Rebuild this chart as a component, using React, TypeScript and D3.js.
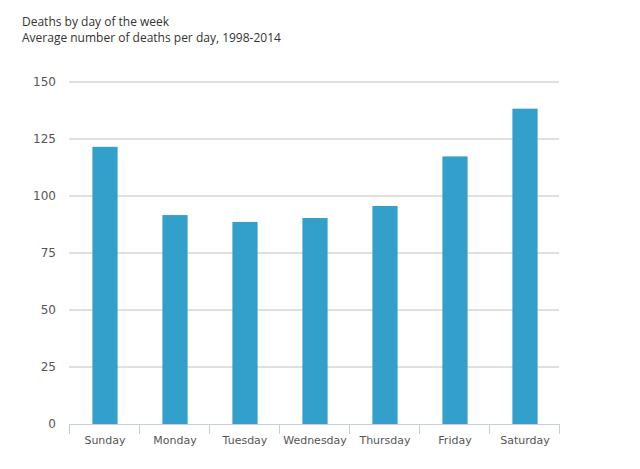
import { useEffect, useRef } from 'react';
import * as d3 from 'd3';

const days = ['Sunday', 'Monday', 'Tuesday', 'Wednesday', 'Thursday', 'Friday', 'Saturday'];
const avgDeaths = [121.4, 91.5, 88.5, 90.2, 95.5, 117.2, 138.1];
const yTicks = [0, 25, 50, 75, 100, 125, 150];

const width = 640;
const height = 469;

const App = () => {
  const ref = useRef<SVGSVGElement | null>(null);

  useEffect(() => {
    if (!ref.current) return;
    const svg = d3.select(ref.current);
    svg.selectAll('*').remove();

    const margin = { top: 81.5, right: 81, bottom: 45, left: 69 };
    const innerWidth = width - margin.left - margin.right;
    const innerHeight = height - margin.top - margin.bottom;

    svg
      .append('text')
      .attr('x', 22)
      .attr('y', 26)
      .attr('font-family', 'Open Sans')
      .attr('font-size', 12)
      .attr('fill', '#333')
      .text('Deaths by day of the week');
    svg
      .append('text')
      .attr('x', 22)
      .attr('y', 42)
      .attr('font-family', 'Open Sans')
      .attr('font-size', 12)
      .attr('fill', '#333')
      .text('Average number of deaths per day, 1998-2014');

    const g = svg.append('g').attr('transform', `translate(${margin.left},${margin.top})`);

    const x = d3.scaleBand().domain(days).range([0, innerWidth]).paddingInner(0.64).paddingOuter(0.32);
    const band = d3.scaleBand().domain(days).range([0, innerWidth]);
    const y = d3.scaleLinear().domain([0, 150]).range([innerHeight, 0]);

    // gridlines
    g.append('g')
      .selectAll('line')
      .data(yTicks.filter((t) => t > 0))
      .enter()
      .append('line')
      .attr('x1', 0)
      .attr('x2', innerWidth)
      .attr('y1', (d) => Math.round(y(d)) + 0.5)
      .attr('y2', (d) => Math.round(y(d)) + 0.5)
      .attr('stroke', '#c0c0c0');

    g.append('g')
      .selectAll('rect')
      .data(avgDeaths)
      .enter()
      .append('rect')
      .attr('x', (_, i) => (x(days[i]) ?? 0) + 1)
      .attr('y', (d) => y(d))
      .attr('width', x.bandwidth())
      .attr('height', (d) => innerHeight - y(d))
      .attr('fill', '#339fcb');

    const yAxis = g.append('g').call(d3.axisLeft(y).tickValues(yTicks).tickSize(0).tickPadding(13));
    yAxis.select('.domain').remove();
    yAxis
      .selectAll('text')
      .attr('font-family', 'DejaVu Sans')
      .attr('font-size', 12)
      .attr('fill', '#555');

    // x axis with ticks on band boundaries
    const xAxis = g.append('g').attr('transform', `translate(0,${innerHeight})`);
    xAxis
      .append('line')
      .attr('x1', 0)
      .attr('x2', innerWidth)
      .attr('y1', 0.5)
      .attr('y2', 0.5)
      .attr('stroke', '#c0d0e0');
    xAxis
      .selectAll('line.tick')
      .data(days.concat(['end']))
      .enter()
      .append('line')
      .attr('class', 'tick')
      .attr('x1', (d) => Math.round(d === 'end' ? innerWidth : band(d) ?? 0) + 0.5)
      .attr('x2', (d) => Math.round(d === 'end' ? innerWidth : band(d) ?? 0) + 0.5)
      .attr('y1', 0)
      .attr('y2', 10)
      .attr('stroke', '#c0d0e0');
    xAxis
      .selectAll('text')
      .data(days)
      .enter()
      .append('text')
      .attr('x', (d) => (band(d) ?? 0) + band.bandwidth() / 2 + 1)
      .attr('y', 20)
      .attr('text-anchor', 'middle')
      .attr('font-family', 'DejaVu Sans')
      .attr('font-size', 11)
      .attr('fill', '#555')
      .text((d) => d);
  }, []);

  return (
    <div style={{ position: 'absolute', left: 0, top: 0 }}>
      <svg ref={ref} width={width} height={height} style={{ display: 'block' }} />
    </div>
  );
};

export default App;
